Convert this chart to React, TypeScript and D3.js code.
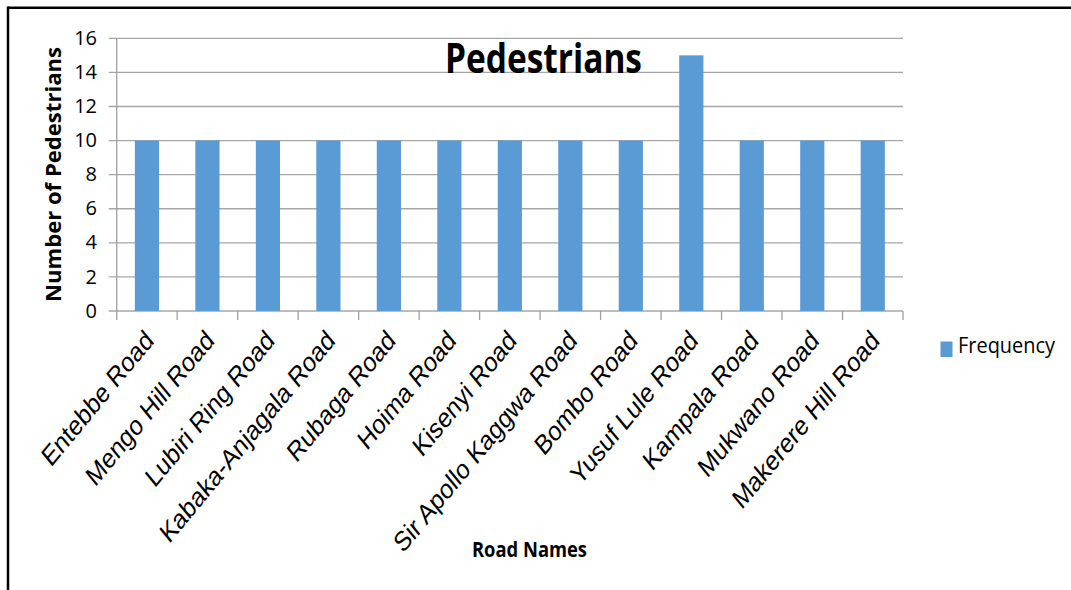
import React, { useEffect, useRef } from "react";
import * as d3 from "d3";

const roads = [
  "Entebbe Road",
  "Mengo Hill Road",
  "Lubiri Ring Road",
  "Kabaka-Anjagala Road",
  "Rubaga Road",
  "Hoima Road",
  "Kisenyi Road",
  "Sir Apollo Kaggwa Road",
  "Bombo Road",
  "Yusuf Lule Road",
  "Kampala Road",
  "Mukwano Road",
  "Makerere Hill Road",
];
const frequency = [10, 10, 10, 10, 10, 10, 10, 10, 10, 15, 10, 10, 10];
const yTicks = [0, 2, 4, 6, 8, 10, 12, 14, 16];

const narrow = "'Liberation Sans Narrow', 'Open Sans', 'DejaVu Sans', sans-serif";
const arial = "'Liberation Sans', Arial, sans-serif";

export default function App() {
  const ref = useRef<SVGSVGElement | null>(null);

  useEffect(() => {
    const svg = d3.select(ref.current);
    svg.selectAll("*").remove();

    const left = 116.7, right = 903, top = 38.3, bottom = 311;

    // frame (top and left only, like the cropped original)
    svg.append("line").attr("x1", 8).attr("x2", 1071).attr("y1", 7.8).attr("y2", 7.8)
      .attr("stroke", "#000").attr("stroke-width", 2.5);
    svg.append("line").attr("x1", 8).attr("x2", 8).attr("y1", 6.5).attr("y2", 590)
      .attr("stroke", "#000").attr("stroke-width", 2.5);

    const x = d3.scaleBand<string>().domain(roads).range([left, right]).padding(0);
    const y = d3.scaleLinear().domain([0, 16]).range([bottom, top]);

    const g = svg.append("g");

    // gridlines
    g.selectAll(".grid")
      .data(yTicks)
      .enter()
      .append("line")
      .attr("x1", left - 8)
      .attr("x2", right)
      .attr("y1", d => y(d))
      .attr("y2", d => y(d))
      .attr("stroke", "#a6a6a6")
      .attr("stroke-width", 1.3);

    // y axis line
    g.append("line").attr("x1", left).attr("x2", left).attr("y1", top).attr("y2", bottom + 9)
      .attr("stroke", "#a0a0a0").attr("stroke-width", 1.3);

    // x ticks at band edges
    const edges = roads.map(r => x(r) as number).concat([right]);
    g.selectAll(".xtick")
      .data(edges.slice(1))
      .enter()
      .append("line")
      .attr("x1", d => d)
      .attr("x2", d => d)
      .attr("y1", bottom)
      .attr("y2", bottom + 9)
      .attr("stroke", "#a0a0a0")
      .attr("stroke-width", 1.3);

    // bars
    const bw = x.bandwidth() * 0.4;
    g.selectAll(".bar")
      .data(frequency)
      .enter()
      .append("rect")
      .attr("x", (d, i) => (x(roads[i]) as number) + x.bandwidth() / 2 - bw / 2)
      .attr("y", d => y(d))
      .attr("width", bw)
      .attr("height", d => bottom - y(d))
      .attr("fill", "#5b9bd5");

    // y tick labels
    g.selectAll(".ylab")
      .data(yTicks)
      .enter()
      .append("text")
      .attr("x", 97)
      .attr("y", d => y(d))
      .attr("dy", "0.33em")
      .attr("text-anchor", "end")
      .attr("font-family", narrow)
      .attr("font-size", 20)
      .attr("fill", "#000")
      .text(d => d);

    // x labels (original is stretched a bit vertically)
    g.selectAll(".xlab")
      .data(roads)
      .enter()
      .append("text")
      .attr("transform", d => `translate(${(x(d) as number) + x.bandwidth() / 2 + 8},342) scale(1,1.21) rotate(-45)`)
      .attr("text-anchor", "end")
      .attr("font-family", arial)
      .attr("font-size", 23)
      .attr("fill", "#000")
      .text(d => d);

    // title
    svg.append("text").attr("x", 445).attr("y", 73)
      .attr("font-family", narrow).attr("font-weight", "bold").attr("font-size", 41)
      .attr("textLength", 197).attr("lengthAdjust", "spacingAndGlyphs")
      .text("Pedestrians");

    // axis titles
    svg.append("text").attr("transform", "translate(61,174.5) rotate(-90)")
      .attr("text-anchor", "middle")
      .attr("font-family", narrow).attr("font-weight", "bold").attr("font-size", 21)
      .attr("textLength", 255).attr("lengthAdjust", "spacingAndGlyphs")
      .text("Number of Pedestrians");
    svg.append("text").attr("x", 472).attr("y", 557)
      .attr("font-family", narrow).attr("font-weight", "bold").attr("font-size", 22)
      .attr("textLength", 115).attr("lengthAdjust", "spacingAndGlyphs")
      .text("Road Names");

    // legend
    svg.append("rect").attr("x", 940.5).attr("y", 341.5).attr("width", 12).attr("height", 15.5)
      .attr("fill", "#5b9bd5");
    svg.append("text").attr("x", 958).attr("y", 353)
      .attr("font-family", narrow).attr("font-size", 22)
      .attr("textLength", 97).attr("lengthAdjust", "spacingAndGlyphs")
      .text("Frequency");
  }, []);

  return (
    <svg
      ref={ref}
      width={1071}
      height={590}
      style={{ position: "absolute", left: 0, top: 0, background: "#fff" }}
    />
  );
}
